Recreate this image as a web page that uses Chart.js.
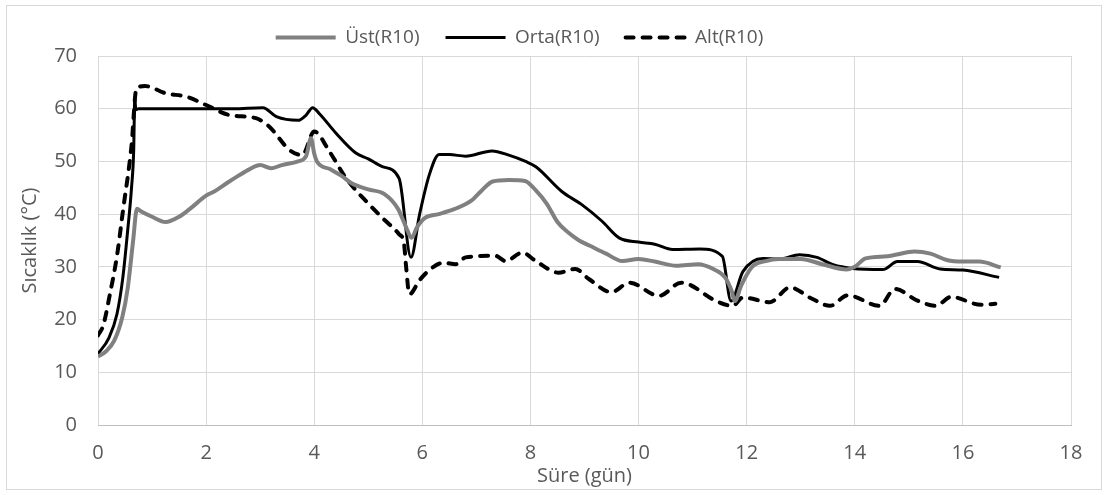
<!DOCTYPE html>
<html>
<head>
<meta charset="utf-8">
<script src="https://cdn.jsdelivr.net/npm/chart.js@4"></script>
<style>
  body { margin: 0; background: #fff; }
  #wrap { position: relative; width: 1107px; height: 495px; }
  #frame { position: absolute; left: 6px; top: 5px; width: 1094px; height: 483px; border: 1px solid #d9d9d9; pointer-events: none; }
</style>
</head>
<body>
<div id="wrap">
  <canvas id="myChart" width="1107" height="495"></canvas>
  <div id="frame"></div>
</div>
<script>
// series names
const seriesNames = ['Üst(R10)', 'Orta(R10)', 'Alt(R10)'];

// Üst (gray)
const ustX = [0, 0.15, 0.3, 0.45, 0.55, 0.65, 0.72, 0.8, 1.0, 1.25, 1.5, 1.7, 2.0, 2.15, 2.4, 2.6, 2.8, 3.0, 3.2, 3.4, 3.7, 3.85, 3.94, 4.0, 4.05, 4.3, 4.5, 4.7, 5.0, 5.3, 5.55, 5.7, 5.8, 5.9, 6.05, 6.3, 6.6, 6.9, 7.1, 7.3, 7.6, 7.9, 8.1, 8.3, 8.5, 8.7, 8.9, 9.1, 9.4, 9.7, 10.0, 10.3, 10.7, 11.1, 11.4, 11.6, 11.72, 11.78, 11.9, 12.1, 12.35, 12.6, 13.0, 13.4, 13.85, 14.0, 14.2, 14.6, 15.0, 15.1, 15.4, 15.7, 16.0, 16.3, 16.7];
const ustY = [13, 14, 16, 20.5, 26, 35, 41, 40.5, 39.5, 38.5, 39.5, 41, 43.5, 44.3, 46, 47.3, 48.5, 49.3, 48.7, 49.3, 50, 51, 54.4, 51.5, 50, 48.5, 47.3, 45.8, 44.7, 43.8, 41, 37.5, 35.5, 37.5, 39.3, 40, 41, 42.5, 44.5, 46.2, 46.5, 46.3, 44.5, 42, 38.5, 36.5, 35, 34, 32.5, 31.1, 31.5, 31, 30.2, 30.5, 29.5, 28, 25.5, 23.5, 26.5, 30, 31.1, 31.5, 31.5, 30.5, 29.5, 30, 31.6, 32, 32.8, 32.9, 32.5, 31.3, 31, 31, 29.9];

// Orta (black)
const ortaX = [0, 0.2, 0.35, 0.46, 0.55, 0.62, 0.66, 0.68, 0.7, 0.75, 1.5, 2.5, 3.05, 3.3, 3.7, 3.85, 3.97, 4.1, 4.4, 4.77, 5.0, 5.26, 5.57, 5.79, 5.95, 6.13, 6.31, 6.5, 6.8, 7.29, 7.6, 7.91, 8.1, 8.58, 8.95, 9.32, 9.64, 10.0, 10.3, 10.63, 11.13, 11.55, 11.71, 11.93, 12.3, 12.6, 12.98, 13.3, 13.6, 13.96, 14.52, 14.79, 15.16, 15.58, 16.0, 16.67];
const ortaY = [13.5, 16.5, 21, 28, 37, 45, 52, 62, 59.8, 60, 60, 60, 60.2, 58.5, 57.8, 58.8, 60.2, 59, 55.4, 51.6, 50.5, 49, 46.8, 31.8, 40, 47.5, 51.3, 51.3, 51, 52, 51.2, 50, 49, 44.3, 41.8, 38.7, 35.5, 34.7, 34.3, 33.3, 33.4, 32, 23.5, 29.1, 31.6, 31.5, 32.3, 31.8, 30.4, 29.7, 29.5, 31, 31, 29.6, 29.4, 28];

// Alt (dashed)
const altX = [0, 0.1, 0.22, 0.35, 0.46, 0.62, 0.71, 0.87, 1.26, 1.63, 2.0, 2.43, 2.92, 3.17, 3.54, 3.78, 4.0, 4.28, 4.59, 5.02, 5.26, 5.57, 5.66, 5.7, 5.76, 5.95, 6.18, 6.4, 6.62, 6.8, 7.35, 7.54, 7.85, 8.1, 8.52, 8.83, 9.08, 9.5, 9.83, 10.38, 10.79, 11.44, 11.74, 11.93, 12.43, 12.8, 13.2, 13.54, 13.87, 14.46, 14.74, 15.16, 15.5, 15.78, 16.34, 16.6];
const altY = [17, 19, 24.8, 32, 40.5, 53, 63.8, 64.3, 62.9, 62.3, 60.7, 58.8, 58.2, 56.6, 52.2, 51.2, 55.7, 51.9, 46.8, 41.8, 39.3, 36.2, 34.5, 30, 24.8, 27.5, 29.8, 30.8, 30.5, 31.8, 32.1, 31.1, 32.7, 31.1, 28.9, 29.6, 27.7, 25.2, 27, 24.5, 27, 23.5, 22.6, 24.2, 23.3, 26.1, 24, 22.6, 24.6, 22.6, 25.8, 23.6, 22.6, 24.3, 22.8, 23];

// axis ticks
const xTicks = [0, 2, 4, 6, 8, 10, 12, 14, 16, 18];
const yTicks = [0, 10, 20, 30, 40, 50, 60, 70];

const toPoints = (xs, ys) => xs.map((x, i) => ({ x: x, y: ys[i] }));

const textColor = '#595959';
const tickFont = { family: 'Open Sans', size: 20 };
const titleFont = { family: 'Open Sans', size: 20 };

// the legend in the original sits a bit left of centre
const legendShift = {
  id: 'legendShift',
  afterLayout(chart) {
    const l = chart.legend;
    l.left -= 25; l.right -= 25;
    l.top += 1; l.bottom += 1;
  }
};

const ctx = document.getElementById('myChart').getContext('2d');
const myChart = new Chart(ctx, {
  type: 'line',
  data: {
    datasets: [
      { label: seriesNames[0], data: toPoints(ustX, ustY), borderColor: '#808080', borderWidth: 4 },
      { label: seriesNames[1], data: toPoints(ortaX, ortaY), borderColor: '#000000', borderWidth: 3 },
      { label: seriesNames[2], data: toPoints(altX, altY), borderColor: '#000000', borderWidth: 4, borderDash: [8, 9], borderCapStyle: 'round' }
    ]
  },
  options: {
    responsive: false,
    animation: false,
    elements: { point: { radius: 0 }, line: { cubicInterpolationMode: 'monotone' } },
    layout: { padding: { left: 18, right: 36, top: 1, bottom: 7 } },
    plugins: {
      tooltip: { enabled: false },
      legend: {
        position: 'top',
        labels: {
          usePointStyle: true,
          pointStyleWidth: 60,
          boxHeight: 19,
          padding: 26,
          color: textColor,
          font: { family: 'Open Sans', size: 19 },
          // legend lines keep each series' own width and dash
          generateLabels: chart => chart.data.datasets.map((ds, i) => ({
            text: ds.label,
            fillStyle: ds.borderColor,
            strokeStyle: ds.borderColor,
            fontColor: textColor,
            lineWidth: ds.borderWidth,
            lineDash: ds.borderDash || [],
            lineCap: ds.borderCapStyle || 'butt',
            pointStyle: 'line',
            hidden: false,
            datasetIndex: i
          }))
        }
      }
    },
    scales: {
      x: {
        type: 'linear',
        min: 0, max: 18,
        afterBuildTicks: s => { s.ticks = xTicks.map(v => ({ value: v })); },
        afterFit: s => { s.height = 63; },
        ticks: { color: textColor, font: tickFont, padding: 16 },
        grid: { color: '#d9d9d9', drawTicks: false },
        border: { color: '#bfbfbf' },
        title: { display: true, text: 'Süre (gün)', color: textColor, font: titleFont, padding: 0 }
      },
      y: {
        min: 0, max: 70,
        afterBuildTicks: s => { s.ticks = yTicks.map(v => ({ value: v })); },
        afterFit: s => { s.width = 80; },
        ticks: { color: textColor, font: tickFont, padding: 21 },
        grid: { color: '#d9d9d9', drawTicks: false },
        border: { display: false },
        title: { display: true, text: 'Sıcaklık (°C)', color: textColor, font: titleFont, padding: 0 }
      }
    }
  },
  plugins: [legendShift]
});
</script>
</body>
</html>
